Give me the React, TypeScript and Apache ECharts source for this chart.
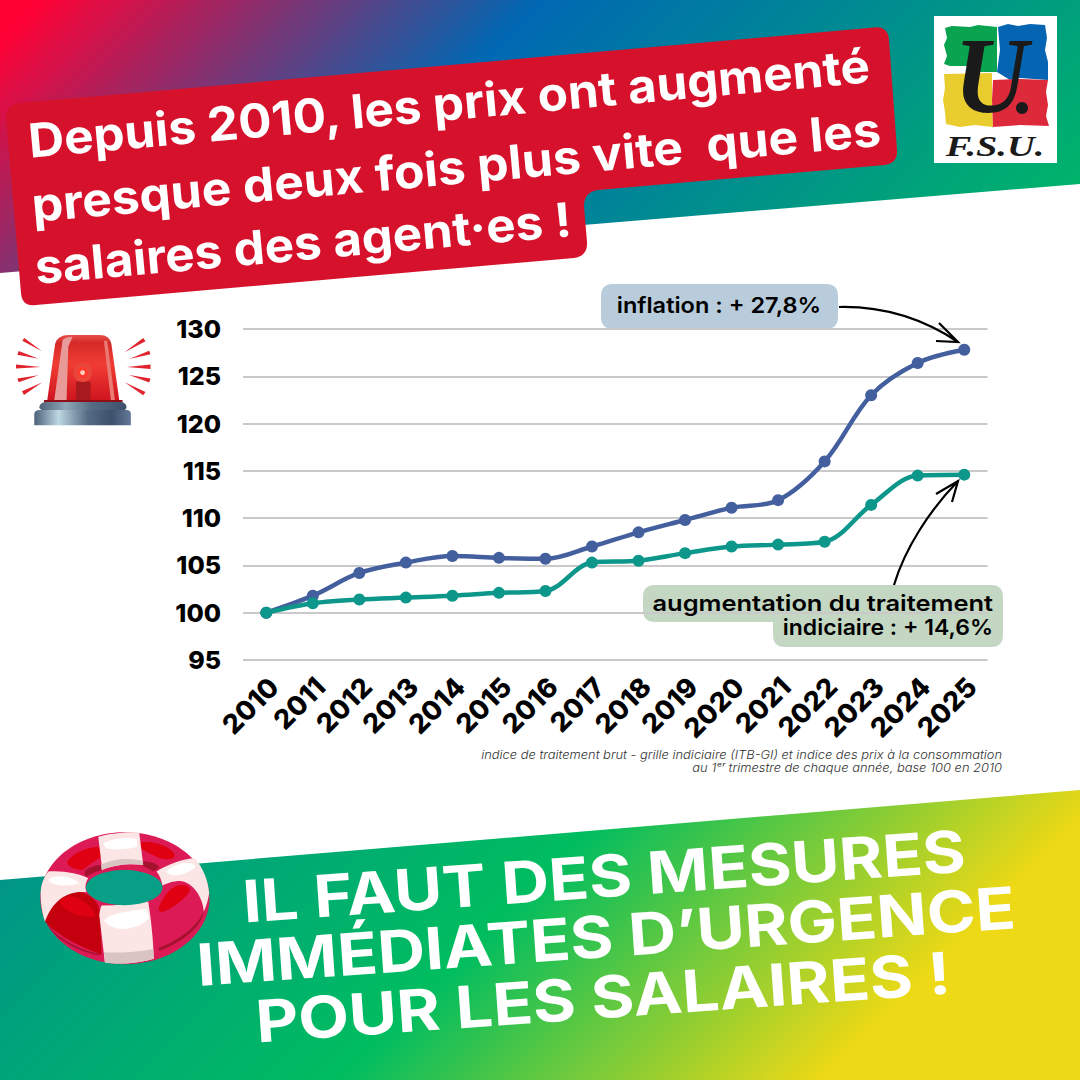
import { useEffect, useRef } from 'react';
import * as echarts from 'echarts';

const years = ['2010', '2011', '2012', '2013', '2014', '2015', '2016', '2017', '2018', '2019', '2020', '2021', '2022', '2023', '2024', '2025'];
const inflation = [100, 101.8, 104.2, 105.3, 106.0, 105.8, 105.7, 107.0, 108.5, 109.8, 111.1, 111.9, 116.0, 123.0, 126.4, 127.8];
const traitement = [100, 101.0, 101.4, 101.6, 101.8, 102.1, 102.3, 105.3, 105.5, 106.3, 107.0, 107.2, 107.5, 111.4, 114.5, 114.6];

const FONT = 'Inter, "Noto Sans", sans-serif';
const TILT_TOP = 0.09;
const TILT_BOTTOM = 0.0704;

const shapes: Record<string, string> = {
  banner: 'M6,118 Q6,104 20,103 L874,27.5 Q888,26 889,40 L897,150 Q898,163 885,165 L598,190 Q584,192 584,206 L587,242 Q588,256 574,258 L36,305 Q22,307 21,293 Z',
  labelBlue: 'M613,284 L826,284 Q838,284 838,296 L838,317 Q838,329 826,329 L613,329 Q601,329 601,317 L601,296 Q601,284 613,284 Z',
  labelGreen: 'M655,585 L991,585 Q1003,585 1003,597 L1003,635 Q1003,647 991,647 L785,647 Q773,647 773,635 L773,622 L655,622 Q643,622 643,610 L643,597 Q643,585 655,585 Z',
  arrowOne: 'M839,307 C885,306 925,320 958,342 M939,323 L958,342 L936,341',
  arrowTwo: 'M894,585 C905,548 930,510 958,481 M936,494 L958,481 L952,502',
  logoGreen: 'M945,28 L952,26 L970,27 L978,25 L997,27 L997,72 L968,72 L968,66 L950,66 L944,64 L947,56 L944,45 L947,38 Z',
  logoBlue: 'M998,27 L1008,24 L1018,26 L1030,24 L1045,25 L1047,38 L1045,50 L1048,62 L1048,80 L1020,78 L1010,80 L997,72 L1000,50 Z',
  logoYellow: 'M944,74 L992,73 L992,100 L993,127 L975,125 L960,127 L946,124 L945,112 L943,100 L945,88 Z',
  logoRed: 'M993,80 L1020,79 L1048,80 L1046,92 L1048,105 L1046,116 L1049,126 L1020,125 L993,127 L992,100 Z',
  sirenRays: 'M67,62 L73,54 L126,94 Z M52,104 L56,93 L116,116 Z M48,134 L48,146 L122,141 Z M52,176 L56,187 L116,166 Z M66,214 L72,225 L126,188 Z M430,54 L437,64 L374,97 Z M448,92 L452,103 L388,117 Z M452,134 L452,147 L381,141 Z M452,176 L448,188 L388,165 Z M437,216 L430,226 L374,187 Z',
  sirenDome: 'M142,240 L165,75 C168,55 185,45 205,45 L300,45 C320,45 332,55 335,75 L358,240 Z',
  sirenBandL: 'M163,240 L188,60 C195,52 205,50 218,50 L205,80 L200,240 Z',
  sirenBandR: 'M312,62 L322,62 L345,240 L333,240 Z',
  sirenPost: 'M228,240 L228,185 L272,185 L272,240 Z',
  sirenCollar: 'M118,264 C118,252 128,246 140,246 L360,246 C372,246 380,252 380,264 L375,270 L125,270 Z',
  sirenBase: 'M103,316 L103,282 C103,274 110,270 118,270 L380,270 C388,270 393,274 393,282 L393,316 Z',
  buoyLeftLobe: 'M75,320 C85,270 120,232 165,228 C205,232 235,255 240,290 L245,420 C180,395 115,365 75,320 Z',
  buoyBlobs: 'M120,262 C125,240 165,238 195,262 C215,280 228,295 225,305 C190,312 130,290 120,262 Z M142,140 C160,110 210,95 238,95 L245,125 C220,140 200,155 188,165 C165,165 140,155 142,140 Z M360,82 C400,78 450,90 465,120 C465,135 440,135 420,130 C395,120 370,105 360,100 Z M415,285 C425,250 450,215 480,210 C500,208 512,218 510,228 C495,255 450,285 425,292 Z',
  buoyDark: 'M193,170 C205,155 230,150 245,150 L247,165 C225,170 205,180 197,188 Z M368,140 C385,138 415,145 418,158 L400,170 C385,160 372,155 368,152 Z M415,400 C470,380 530,340 552,290 C545,340 480,385 420,408 Z M80,325 C110,370 180,405 240,418 L240,421 C180,415 100,370 80,325 Z',
  buoyStripes: 'M235,65 C270,55 320,50 358,52 L370,150 C330,145 280,150 247,165 Z M238,300 C240,285 243,275 245,272 C290,272 340,268 385,260 C392,300 400,370 402,432 C360,445 300,450 255,443 Z M62,240 C62,210 70,190 85,170 C120,165 180,175 205,190 C195,205 195,220 200,232 C150,225 100,250 75,320 C65,290 62,260 62,240 Z M410,170 C440,150 490,130 525,130 C550,160 565,195 568,235 C565,255 558,280 552,290 C550,250 520,200 480,198 C460,198 440,205 428,212 C425,195 418,180 410,170 Z',
  buoyShade: 'M245,165 L243,150 C280,130 330,128 368,138 L370,150 C330,145 280,150 247,165 Z M252,412 C300,415 360,412 400,402 L402,432 C360,445 300,450 255,443 Z',
  buoyShine: 'M250,85 C280,70 320,65 352,72 L352,95 C320,105 280,105 258,100 Z M253,318 C260,300 300,290 380,282 L388,310 C360,340 290,360 253,318 Z M85,195 C110,175 160,185 178,205 C150,215 95,215 85,195 Z M438,170 C465,145 510,135 528,155 C510,175 460,195 438,170 Z',
};

Object.keys(shapes).forEach((name) => {
  echarts.graphic.registerShape(name, echarts.graphic.extendPath(shapes[name], {}));
});

const globalGradient = (x1: number, y1: number, x2: number, y2: number, stops: [number, string][]) =>
  new echarts.graphic.LinearGradient(x1, y1, x2, y2, stops.map(([offset, color]) => ({ offset, color })), true);

const localGradient = (x2: number, y2: number, stops: [number, string][]) =>
  new echarts.graphic.LinearGradient(0, 0, x2, y2, stops.map(([offset, color]) => ({ offset, color })));

const text = (value: string, x: number, y: number, size: number, extra: any = {}) => ({
  type: 'text',
  x,
  y,
  rotation: extra.rotation ?? 0,
  scaleX: extra.scaleX ?? 1,
  scaleY: extra.scaleY ?? 1,
  z: 5,
  style: {
    text: value,
    fontFamily: extra.family ?? FONT,
    fontWeight: extra.weight ?? 700,
    fontStyle: extra.italic ? 'italic' : 'normal',
    fontSize: size,
    fill: extra.fill ?? '#000',
    textAlign: extra.align ?? 'center',
    textVerticalAlign: 'middle',
    align: extra.align ?? 'center',
    verticalAlign: 'middle',
  },
});

const shape = (name: string, fill: any, extra: any = {}) => ({ type: name, z: extra.z ?? 4, style: { fill, ...extra.style } });

function buildGraphic() {
  const top = globalGradient(0, 0, 630, 630, [[0.03, '#ff0033'], [0.43, '#0068b3'], [1, '#00b36a']]);
  const bottom = globalGradient(440, 440, 950, 950, [[0, '#009688'], [0.53, '#00bd5f'], [1, '#edd915']]);

  const banner = { rotation: TILT_TOP, fill: '#fff', scaleX: 1.05 };
  const slogan = { rotation: TILT_BOTTOM, weight: 700, fill: '#fff', scaleX: 1.135 };
  const note = { weight: 300, italic: true, align: 'right', fill: '#333', scaleX: 1.075 };

  return [
    { type: 'polygon', z: -3, shape: { points: [[0, 0], [1080, 0], [1080, 184], [0, 273]] }, style: { fill: top } },
    { type: 'polygon', z: -3, shape: { points: [[0, 880], [1080, 790], [1080, 1080], [0, 1080]] }, style: { fill: bottom } },
    shape('banner', '#d6112c'),
    text('Depuis 2010, les prix ont augmenté', 449, 103, 47, banner),
    text('presque deux fois plus vite  que les', 456, 167, 47, { ...banner, scaleX: 1.06 }),
    text('salaires des agent·es !', 303, 243, 47, banner),

    { type: 'rect', z: 4, shape: { x: 934, y: 16, width: 123, height: 147 }, style: { fill: '#fff' } },
    shape('logoGreen', '#0aa34f'),
    shape('logoBlue', '#0565b3'),
    shape('logoYellow', '#e9cd2f'),
    shape('logoRed', '#dd2a3a'),
    text('U', 991, 76, 108, { family: '"Liberation Serif", serif', italic: true, weight: 700, fill: '#1a1a1a', scaleX: 0.95 }),
    { type: 'circle', z: 5, shape: { cx: 1022, cy: 108, r: 6 }, style: { fill: '#1a1a1a' } },
    text('F.S.U.', 995, 146, 30, { family: '"Liberation Serif", serif', italic: true, weight: 700, fill: '#1a1a1a', scaleX: 1.28 }),

    { type: 'group', x: 0, y: 320, scaleX: 1 / 3, scaleY: 1 / 3, z: 4, children: [
      shape('sirenRays', '#e0242f'),
      shape('sirenDome', localGradient(0, 1, [[0, '#e8504a'], [0.12, '#d42a28'], [0.45, '#f03d33'], [1, '#cf1420']])),
      shape('sirenBandL', '#e89a98', { z: 5 }),
      shape('sirenBandR', '#ea7a74', { z: 5 }),
      shape('sirenPost', '#a81a20', { z: 5 }),
      { type: 'circle', z: 6, shape: { cx: 248, cy: 158, r: 28 }, style: { fill: '#e8483c' } },
      { type: 'circle', z: 6, shape: { cx: 248, cy: 158, r: 17 }, style: { fill: '#ff3a2e' } },
      { type: 'circle', z: 6, shape: { cx: 248, cy: 158, r: 7 }, style: { fill: '#ffd0c0' } },
      { type: 'rect', z: 6, shape: { x: 132, y: 240, width: 236, height: 7 }, style: { fill: '#8c1018' } },
      shape('sirenCollar', localGradient(1, 0, [[0, '#4d6078'], [0.3, '#8fa8b8'], [0.6, '#566c84'], [1, '#3d4f6a']]), { z: 6 }),
      shape('sirenBase', localGradient(1, 0, [[0, '#4d6078'], [0.25, '#bcd8e2'], [0.55, '#566c84'], [0.8, '#3d4f6a'], [1, '#64799a']]), { z: 6 }),
    ] },

    { type: 'group', x: 20, y: 815, scaleX: 1 / 3, scaleY: 1 / 3, z: 6, children: [
      { type: 'ellipse', z: 6, shape: { cx: 315, cy: 250, rx: 254, ry: 198 }, style: { fill: '#dc1a56' } },
      shape('buoyLeftLobe', '#c4000f', { z: 6 }),
      shape('buoyBlobs', '#df0011', { z: 6 }),
      shape('buoyDark', '#a51230', { z: 6 }),
      shape('buoyStripes', '#fbe5e5', { z: 6 }),
      shape('buoyShade', '#d9c3c3', { z: 6 }),
      shape('buoyShine', '#ffffff', { z: 6 }),
      { type: 'ellipse', z: 6, shape: { cx: 313, cy: 218, rx: 115, ry: 53 }, style: { fill: '#079f86' } },
    ] },

    shape('labelBlue', '#b8ccdb', { z: -1 }),
    shape('labelGreen', '#c4d7c3', { z: -1 }),
    text('inflation : + 27,8%', 719, 305, 22, { weight: 600, scaleX: 1.07 }),
    text('augmentation du traitement', 993, 603, 22, { weight: 600, align: 'right', scaleX: 1.157 }),
    text('indiciaire : + 14,6%', 993, 627, 22, { weight: 600, align: 'right', scaleX: 1.045 }),
    { type: 'arrowOne', z: 5, style: { fill: 'none', stroke: '#000', lineWidth: 2.2 } },
    { type: 'arrowTwo', z: 5, style: { fill: 'none', stroke: '#000', lineWidth: 2.2 } },

    text('indice de traitement brut - grille indiciaire (ITB-GI) et indice des prix à la consommation', 1002, 755, 12, note),
    text('au 1ᵉʳ trimestre de chaque année, base 100 en 2010', 1002, 768, 12, note),

    text('IL FAUT DES MESURES', 604, 876, 58, slogan),
    text('IMMÉDIATES D’URGENCE', 606, 936, 58, slogan),
    text('POUR LES SALAIRES !', 603, 997, 58, slogan),
  ];
}

export default function App() {
  const chartRef = useRef<HTMLDivElement>(null);

  useEffect(() => {
    if (!chartRef.current) return;

    const chart = echarts.init(chartRef.current, undefined, { renderer: 'svg' });

    const lineSeries = (name: string, data: number[], color: string) => ({
      name,
      type: 'line',
      data,
      smooth: 0.35,
      symbol: 'circle',
      symbolSize: 12,
      itemStyle: { color },
      lineStyle: { color, width: 4.5 },
    });

    chart.setOption({
      animation: false,
      backgroundColor: '#fff',
      grid: { left: 243, top: 329, width: 744.5, height: 331 },
      xAxis: {
        type: 'category',
        data: years,
        axisLine: { show: false },
        axisTick: { show: false },
        axisLabel: {
          interval: 0,
          rotate: 45,
          margin: 30,
          padding: [0, -11, 0, 0],
          color: '#000',
          fontFamily: FONT,
          fontWeight: 800,
          fontSize: 27,
        },
      },
      yAxis: {
        type: 'value',
        min: 95,
        max: 130,
        interval: 5,
        axisLine: { show: false },
        axisTick: { show: false },
        axisLabel: { margin: 22, color: '#000', fontFamily: FONT, fontWeight: 800, fontSize: 25 },
        splitLine: { lineStyle: { color: '#c9c9c9', width: 2 } },
      },
      series: [
        lineSeries('Inflation', inflation, '#445f9e'),
        lineSeries('Traitement indiciaire', traitement, '#0d978b'),
      ],
      graphic: { elements: buildGraphic() },
    });

    return () => {
      chart.dispose();
    };
  }, []);

  return <div ref={chartRef} style={{ position: 'fixed', left: 0, top: 0, width: 1080, height: 1080 }} />;
}
